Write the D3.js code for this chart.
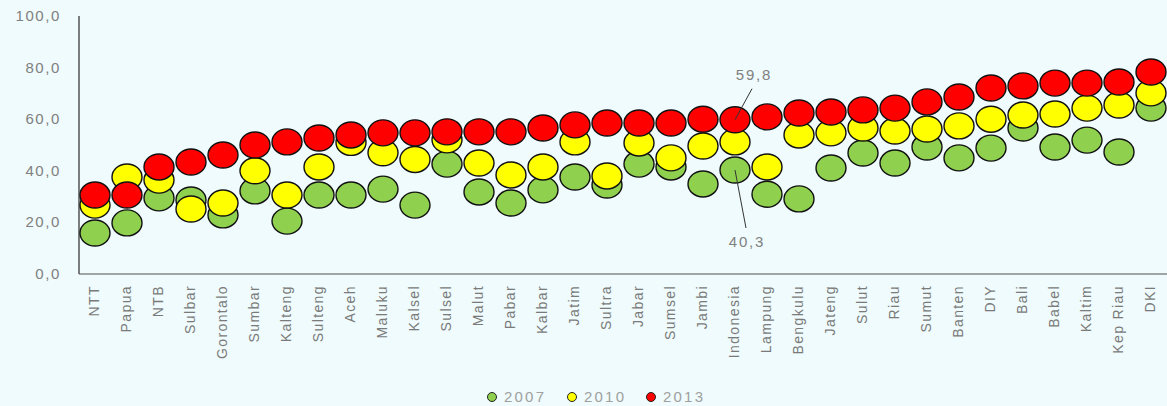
<!DOCTYPE html>
<html><head><meta charset="utf-8">
<script src="https://cdn.jsdelivr.net/npm/d3@7"></script>
<style>
html,body{margin:0;padding:0;background:#effbfc;}
svg{display:block;font-family:"Liberation Sans",Arial,sans-serif;}
</style></head>
<body>
<svg id="c" width="1167" height="406"></svg>
<script>
const categories = ["NTT","Papua","NTB","Sulbar","Gorontalo","Sumbar","Kalteng","Sulteng","Aceh","Maluku","Kalsel","Sulsel","Malut","Pabar","Kalbar","Jatim","Sultra","Jabar","Sumsel","Jambi","Indonesia","Lampung","Bengkulu","Jateng","Sulut","Riau","Sumut","Banten","DIY","Bali","Babel","Kaltim","Kep Riau","DKI"];
const v2007 = [15.9,19.8,29.5,28.7,22.9,32.2,20.5,30.6,30.6,32.9,26.7,42.6,31.8,27.5,32.6,37.6,34.5,42.6,41.5,34.9,40.3,30.9,29.1,41.1,46.9,43.0,49.2,45.0,48.8,56.6,49.2,51.9,47.3,64.3];
const v2010 = [26.7,37.6,36.4,25.2,27.5,40.0,30.6,41.5,51.0,47.0,44.4,52.0,43.0,38.4,41.5,51.2,38.0,50.8,45.0,49.6,51.2,41.5,53.9,54.7,56.6,55.4,56.2,57.4,60.0,61.6,62.0,64.3,65.5,70.2];
const v2013 = [30.6,30.6,41.5,43.4,46.1,50.0,51.2,52.7,53.9,54.7,54.7,55.1,55.1,55.1,56.6,57.8,58.5,58.5,58.5,60.0,59.8,60.9,62.4,62.8,63.6,64.3,66.7,68.6,72.1,72.9,74.0,74.0,74.4,78.3];
const yTicks = [0,20,40,60,80,100];
const seriesNames = ["2007","2010","2013"];
const seriesColors = ["#8fd14f","#ffff00","#ff0000"];

const svg = d3.select("#c");
const x = d3.scaleBand().domain(categories).range([79,1167]);
const y = d3.scaleLinear().domain([0,100]).range([274,16]);
const fmt = d => d3.format(".1f")(d).replace(".", ",");

// axes
svg.append("line").attr("x1",79).attr("x2",1167).attr("y1",y(0)).attr("y2",y(0)).attr("stroke","#888").attr("stroke-width",1.5);
svg.append("line").attr("x1",79).attr("x2",79).attr("y1",y(100)).attr("y2",y(0)).attr("stroke","#555").attr("stroke-width",1.5);

svg.append("g").selectAll("text").data(yTicks).join("text")
  .attr("x",61).attr("y",d=>y(d)+5).attr("text-anchor","end")
  .attr("font-size",15).attr("fill","#808080").attr("letter-spacing",1.6)
  .text(d=>fmt(d));

svg.append("g").selectAll("text").data(categories).join("text")
  .attr("transform",d=>`translate(${x(d)+x.bandwidth()/2+4},285) rotate(-90)`)
  .attr("text-anchor","end").attr("font-size",14).attr("fill","#7a7a7a").attr("letter-spacing",1.4)
  .text(d=>d);

// points
const allSeries = [v2007,v2010,v2013];
allSeries.forEach((vals,si)=>{
  svg.append("g").selectAll("ellipse").data(vals).join("ellipse")
    .attr("cx",(d,i)=>x(categories[i])+x.bandwidth()/2)
    .attr("cy",d=>y(d))
    .attr("rx",15).attr("ry",13)
    .attr("fill",seriesColors[si]).attr("stroke","#111").attr("stroke-width",1.4);
});

// annotations for Indonesia
const ii = categories.indexOf("Indonesia");
const cx = x(categories[ii])+x.bandwidth()/2;
const ann = [
  {v:v2013[ii], dx:17, dy:-31, tx:19, ty:-40},
  {v:v2007[ii], dx:11, dy:58, tx:12, ty:77}
];
ann.forEach(a=>{
  svg.append("line").attr("x1",cx).attr("y1",y(a.v)).attr("x2",cx+a.dx).attr("y2",y(a.v)+a.dy)
    .attr("stroke","#333").attr("stroke-width",1);
  svg.append("text").attr("x",cx+a.tx).attr("y",y(a.v)+a.ty).attr("text-anchor","middle")
    .attr("font-size",15).attr("fill","#808080").attr("letter-spacing",1.8).text(fmt(a.v));
});

// legend
const lx = [492,572,651];
seriesNames.forEach((n,i)=>{
  svg.append("circle").attr("cx",lx[i]).attr("cy",397).attr("r",4.5)
    .attr("fill",seriesColors[i]).attr("stroke","#222").attr("stroke-width",1);
  svg.append("text").attr("x",lx[i]+12).attr("y",402).attr("font-size",15)
    .attr("fill","#a0a0a0").attr("letter-spacing",2.2).text(n);
});
</script>
</body></html>
